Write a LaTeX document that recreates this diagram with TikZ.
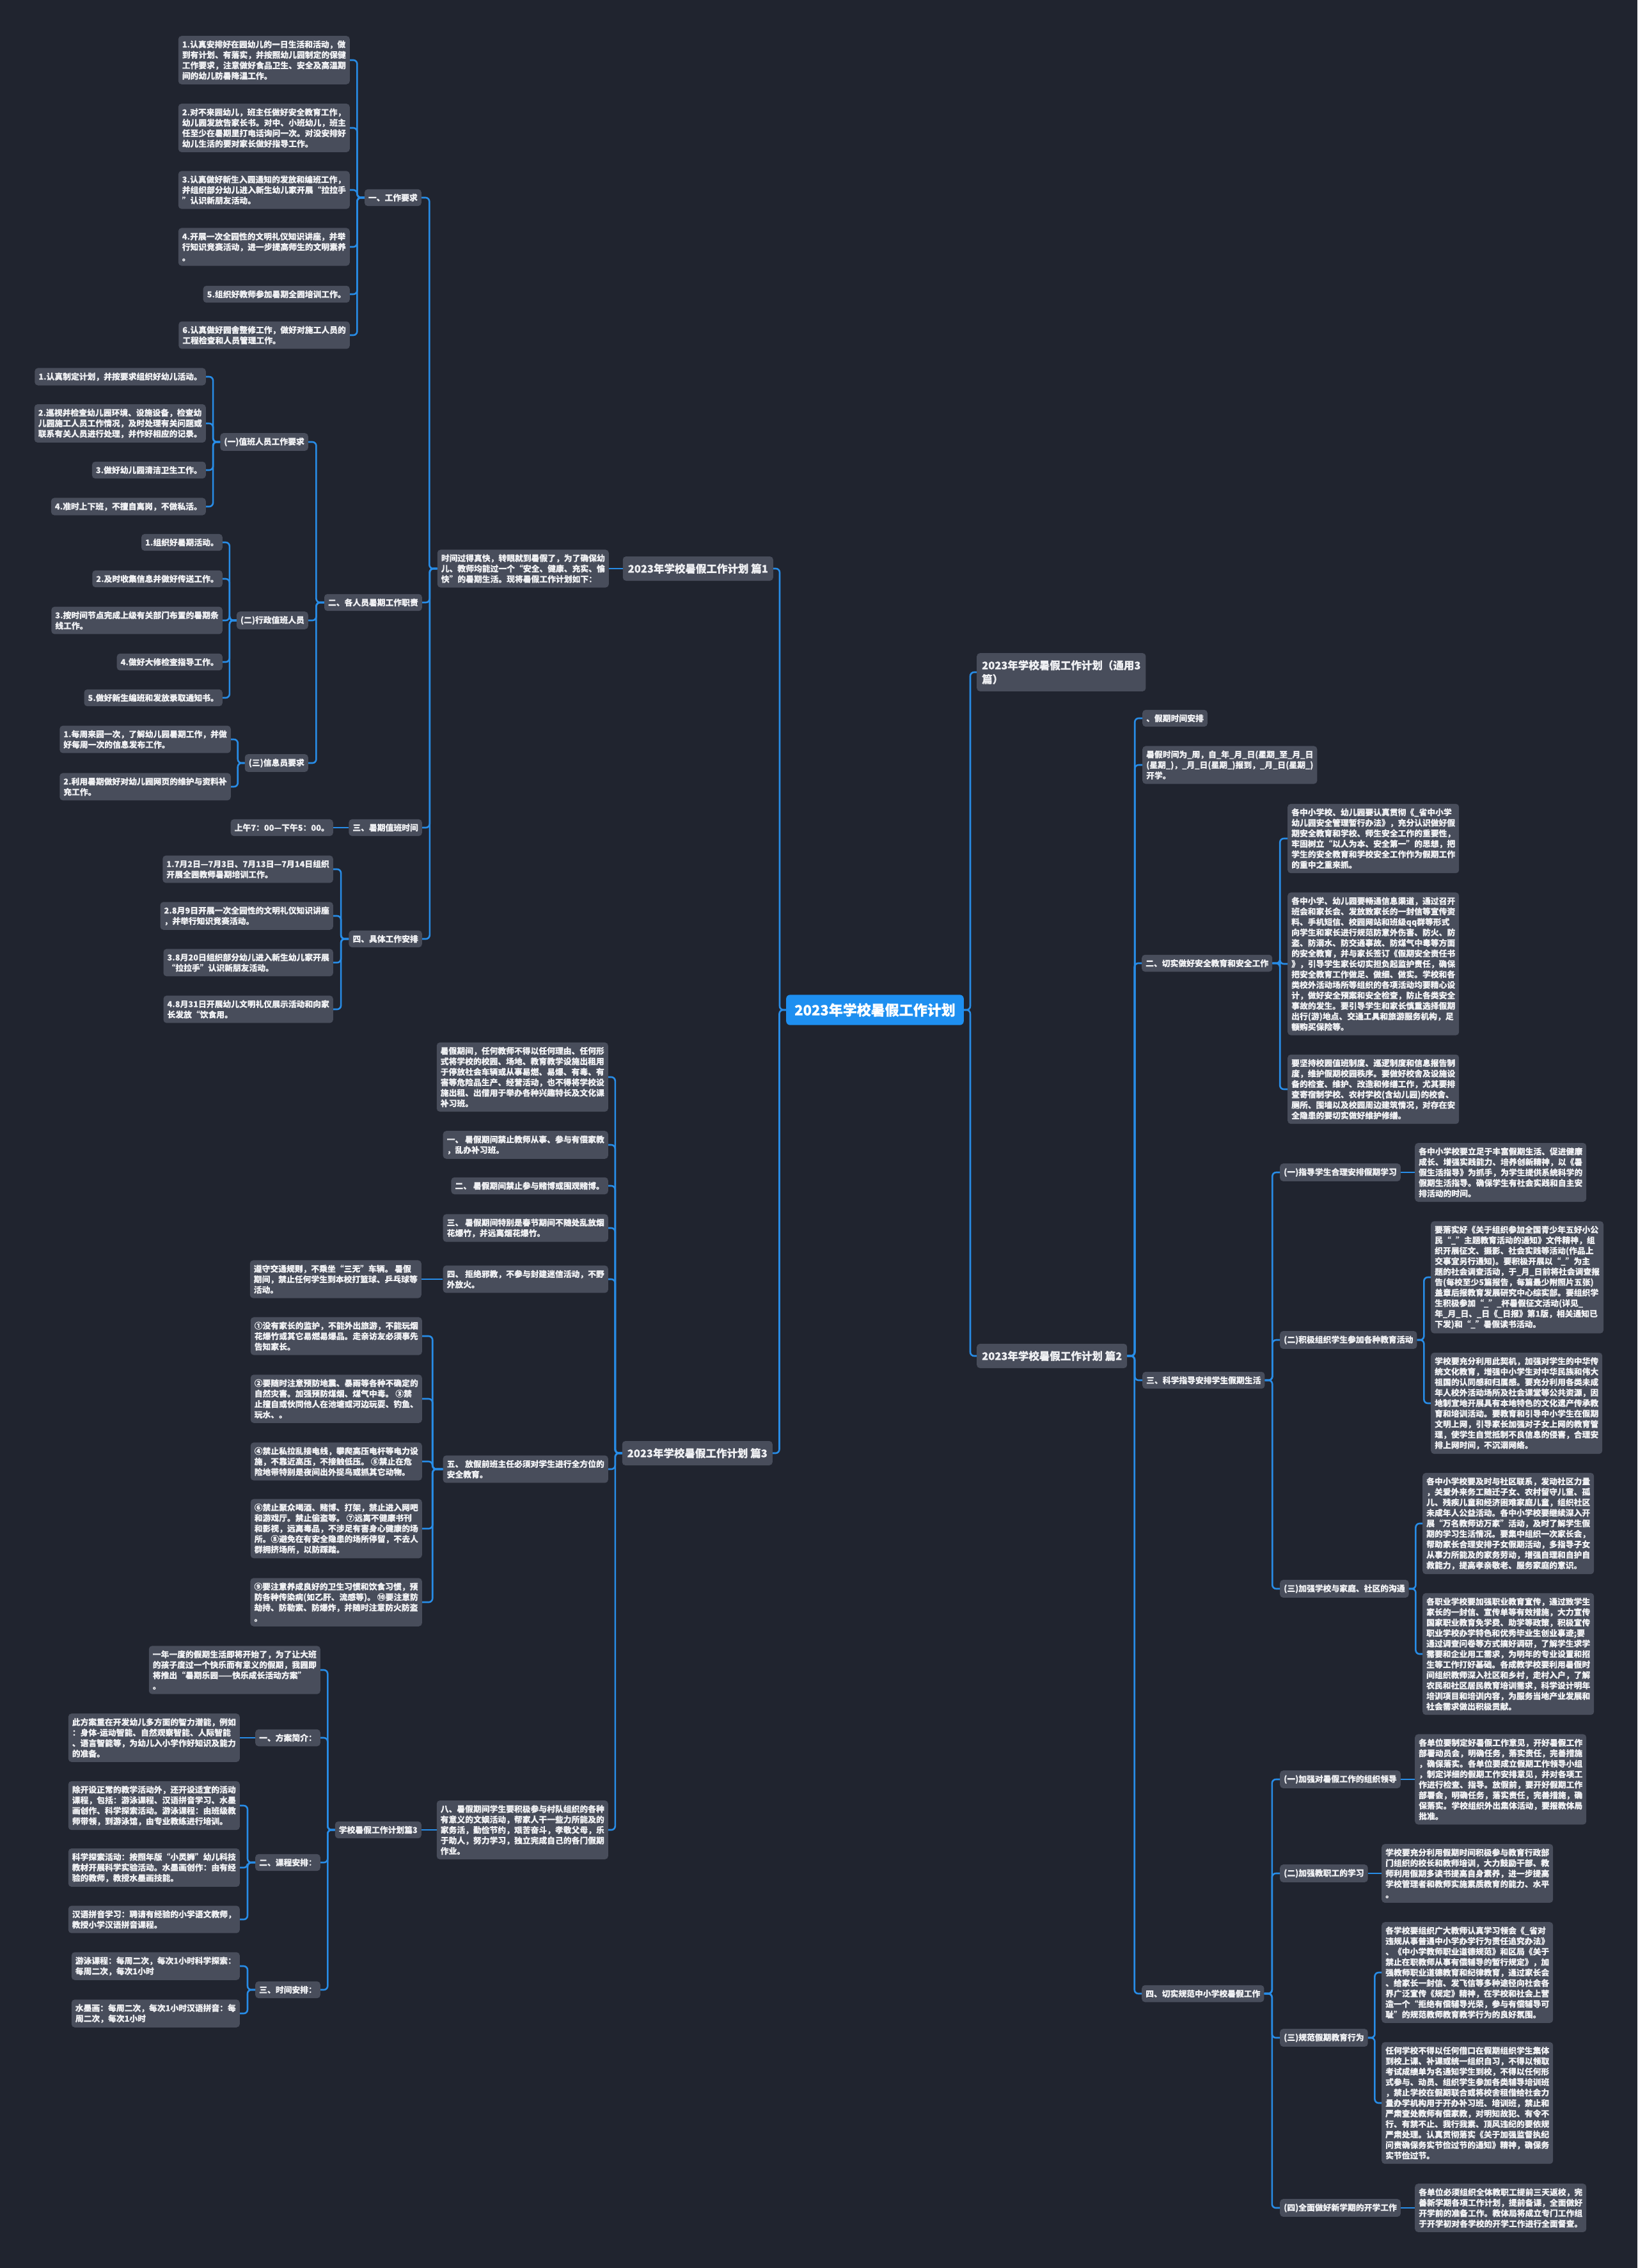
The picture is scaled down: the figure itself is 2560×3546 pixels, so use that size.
\documentclass[tikz,border=0pt]{standalone}
\usepackage{fontspec}
\setmainfont[FakeBold=0.3]{Noto Sans CJK SC}
\usetikzlibrary{calc}
\definecolor{bg}{HTML}{20242F}
\definecolor{boxfill}{HTML}{484D5B}
\definecolor{txt}{HTML}{EEEFF2}
\definecolor{wire}{HTML}{288CE6}
\definecolor{rootfill}{HTML}{1E8FF0}
\tikzset{leaf/.style={rounded corners=5pt,fill=boxfill,text=txt,font=\fontsize{12.8}{16.4}\selectfont\bfseries,inner xsep=6pt,inner ysep=7pt,align=left},
lbox/.style={leaf,anchor=east},rbox/.style={leaf,anchor=west},
part/.style={leaf,font=\fontsize{16.5}{21.7}\selectfont\bfseries,inner xsep=8pt,inner ysep=11pt},
root/.style={rounded corners=6pt,fill=rootfill,text=white,font=\fontsize{22}{26}\selectfont\bfseries,inner xsep=13pt,inner ysep=13pt},
link/.style={draw=wire,line width=2.6pt,rounded corners=6pt},
elbow/.style={to path={-- ($(\tikztostart)!.5!(\tikztostart-|\tikztotarget)$) |- (\tikztotarget)}}}

\begin{document}
\begin{tikzpicture}[x=1pt,y=-1pt]
\fill[bg] (0,0) rectangle (2560,3546);
\useasboundingbox (0,0) rectangle (2560,3546);
\node[root] (root) at (1368,1579) {2023年学校暑假工作计划};

% part 1
\node[part,anchor=east] (p1) at (1209,889) {2023年学校暑假工作计划 篇1};
\node[lbox] (p1i) at (952,889) {时间过得真快，转眼就到暑假了，为了确保幼\\儿、教师均能过一个“安全、健康、充实、愉\\快”的暑期生活。现将暑假工作计划如下：};
\node[lbox] (g1) at (659,309) {一、工作要求};
\node[lbox] (w1) at (547,94) {1.认真安排好在园幼儿的一日生活和活动，做\\到有计划、有落实，并按照幼儿园制定的保健\\工作要求，注意做好食品卫生、安全及高温期\\间的幼儿防暑降温工作。};
\node[lbox] (w2) at (547,200) {2.对不来园幼儿，班主任做好安全教育工作，\\幼儿园发放告家长书。对中、小班幼儿，班主\\任至少在暑期里打电话询问一次。对没安排好\\幼儿生活的要对家长做好指导工作。};
\node[lbox] (w3) at (547,297) {3.认真做好新生入园通知的发放和编班工作，\\并组织部分幼儿进入新生幼儿家开展“拉拉手\\”认识新朋友活动。};
\node[lbox] (w4) at (547,386) {4.开展一次全园性的文明礼仪知识讲座，并举\\行知识竞赛活动，进一步提高师生的文明素养\\。};
\node[lbox] (w5) at (547,460) {5.组织好教师参加暑期全园培训工作。};
\node[lbox] (w6) at (547,524) {6.认真做好园舍整修工作，做好对施工人员的\\工程检查和人员管理工作。};
\node[lbox] (g2) at (660,942) {二、各人员暑期工作职责};
\node[lbox] (h1) at (482,691) {(一)值班人员工作要求};
\node[lbox] (h1a) at (322,589) {1.认真制定计划，并按要求组织好幼儿活动。};
\node[lbox] (h1b) at (322,662) {2.巡视并检查幼儿园环境、设施设备，检查幼\\儿园施工人员工作情况，及时处理有关问题或\\联系有关人员进行处理，并作好相应的记录。};
\node[lbox] (h1c) at (322,735) {3.做好幼儿园清洁卫生工作。};
\node[lbox] (h1d) at (322,792) {4.准时上下班，不擅自离岗，不做私活。};
\node[lbox] (h2) at (482,970) {(二)行政值班人员};
\node[lbox] (h2a) at (348,848) {1.组织好暑期活动。};
\node[lbox] (h2b) at (348,905) {2.及时收集信息并做好传送工作。};
\node[lbox] (h2c) at (348,970) {3.按时间节点完成上级有关部门布置的暑期条\\线工作。};
\node[lbox] (h2d) at (348,1035) {4.做好大修检查指导工作。};
\node[lbox] (h2e) at (348,1091) {5.做好新生编班和发放录取通知书。};
\node[lbox] (h3) at (482,1193) {(三)信息员要求};
\node[lbox] (h3a) at (361,1156) {1.每周来园一次，了解幼儿园暑期工作，并做\\好每周一次的信息发布工作。};
\node[lbox] (h3b) at (361,1230) {2.利用暑期做好对幼儿园网页的维护与资料补\\充工作。};
\node[lbox] (g3) at (660,1294) {三、暑期值班时间};
\node[lbox] (g3a) at (521,1294) {上午7：00—下午5：00。};
\node[lbox] (g4) at (660,1468) {四、具体工作安排};
\node[lbox] (g4a) at (521,1359) {1.7月2日—7月3日、7月13日—7月14日组织\\开展全园教师暑期培训工作。};
\node[lbox] (g4b) at (521,1432) {2.8月9日开展一次全园性的文明礼仪知识讲座\\，并举行知识竞赛活动。};
\node[lbox] (g4c) at (521,1505) {3.8月20日组织部分幼儿进入新生幼儿家开展\\“拉拉手”认识新朋友活动。};
\node[lbox] (g4d) at (521,1578) {4.8月31日开展幼儿文明礼仪展示活动和向家\\长发放“饮食用。};

% part 3
\node[part,anchor=east] (p3) at (1208,2272) {2023年学校暑假工作计划 篇3};
\node[lbox] (q1) at (951,1684) {暑假期间，任何教师不得以任何理由、任何形\\式将学校的校园、场地、教育教学设施出租用\\于停放社会车辆或从事易燃、易爆、有毒、有\\害等危险品生产、经营活动，也不得将学校设\\施出租、出借用于举办各种兴趣特长及文化课\\补习班。};
\node[lbox] (q2) at (951,1790) {一、 暑假期间禁止教师从事、参与有偿家教\\，乱办补习班。};
\node[lbox] (q3) at (951,1854) {二、 暑假期间禁止参与赌博或围观赌博。};
\node[lbox] (q4) at (951,1920) {三、 暑假期间特别是春节期间不随处乱放烟\\花爆竹，并远离烟花爆竹。};
\node[lbox] (q5) at (951,2000) {四、 拒绝邪教，不参与封建迷信活动，不野\\外放火。};
\node[lbox] (q5a) at (659,2000) {遵守交通规则，不乘坐“三无”车辆。 暑假\\期间，禁止任何学生到本校打篮球、乒乓球等\\活动。};
\node[lbox] (q6) at (951,2297) {五、 放假前班主任必须对学生进行全方位的\\安全教育。};
\node[lbox] (q6a) at (660,2089) {①没有家长的监护，不能外出旅游，不能玩烟\\花爆竹或其它易燃易爆品。走亲访友必须事先\\告知家长。};
\node[lbox] (q6b) at (660,2187) {②要随时注意预防地震、暴雨等各种不确定的\\自然灾害。加强预防煤烟、煤气中毒。 ③禁\\止擅自或伙同他人在池塘或河边玩耍、钓鱼、\\玩水、。};
\node[lbox] (q6c) at (660,2285) {④禁止私拉乱接电线，攀爬高压电杆等电力设\\施，不靠近高压，不接触低压。 ⑤禁止在危\\险地带特别是夜间出外捉鸟或抓其它动物。};
\node[lbox] (q6d) at (660,2390) {⑥禁止聚众喝酒、赌博、打架，禁止进入网吧\\和游戏厅。禁止偷盗等。 ⑦远离不健康书刊\\和影视，远离毒品，不涉足有害身心健康的场\\所。⑧避免在有安全隐患的场所停留，不去人\\群拥挤场所，以防踩踏。};
\node[lbox] (q6e) at (660,2505) {⑨要注意养成良好的卫生习惯和饮食习惯，预\\防各种传染病(如乙肝、流感等)。 ⑩要注意防\\劫持、防勒索、防爆炸，并随时注意防火防盗\\。};
\node[lbox] (q7) at (951,2861) {八、暑假期间学生要积极参与村队组织的各种\\有意义的文娱活动，帮家人干一些力所能及的\\家务活，勤俭节约，艰苦奋斗，孝敬父母，乐\\于助人，努力学习，独立完成自己的各门假期\\作业。};
\node[lbox] (q8) at (659,2861) {学校暑假工作计划篇3};
\node[lbox] (r0) at (501,2611) {一年一度的假期生活即将开始了，为了让大班\\的孩子度过一个快乐而有意义的假期，我园即\\将推出“暑期乐园——快乐成长活动方案”\\。};
\node[lbox] (r1) at (501,2717) {一、方案简介：};
\node[lbox] (r1a) at (375,2717) {此方案重在开发幼儿多方面的智力潜能，例如\\：身体-运动智能、自然观察智能、人际智能\\、语言智能等，为幼儿入小学作好知识及能力\\的准备。};
\node[lbox] (r2) at (501,2912) {二、课程安排：};
\node[lbox] (r2a) at (375,2823) {除开设正常的教学活动外，还开设适宜的活动\\课程，包括：游泳课程、汉语拼音学习、水墨\\画创作、科学探索活动。游泳课程：由班级教\\师带领，到游泳馆，由专业教练进行培训。};
\node[lbox] (r2b) at (375,2920) {科学探索活动：按照年版“小灵狮”幼儿科技\\教材开展科学实验活动。水墨画创作：由有经\\验的教师，教授水墨画技能。};
\node[lbox] (r2c) at (375,3001) {汉语拼音学习：聘请有经验的小学语文教师，\\教授小学汉语拼音课程。};
\node[lbox] (r3) at (501,3111) {三、时间安排：};
\node[lbox] (r3a) at (375,3074) {游泳课程：每周二次，每次1小时科学探索：\\每周二次，每次1小时};
\node[lbox] (r3b) at (375,3148) {水墨画：每周二次，每次1小时汉语拼音：每\\周二次，每次1小时};

% right side
\node[part,anchor=west] (s0) at (1527,1051) {2023年学校暑假工作计划（通用3\\篇）};
\node[part,anchor=west] (s1) at (1527,2120) {2023年学校暑假工作计划 篇2};
\node[rbox] (t1) at (1786,1123) {、假期时间安排};
\node[rbox] (t2) at (1786,1196) {暑假时间为\_周，自\_年\_月\_日(星期\_至\_月\_日\\(星期\_)，\_月\_日(星期\_)报到，\_月\_日(星期\_)\\开学。};
\node[rbox] (t3) at (1785,1506) {二、切实做好安全教育和安全工作};
\node[rbox] (t3a) at (2013,1311) {各中小学校、幼儿园要认真贯彻《\_省中小学\\幼儿园安全管理暂行办法》，充分认识做好假\\期安全教育和学校、师生安全工作的重要性，\\牢固树立“以人为本、安全第一”的思想，把\\学生的安全教育和学校安全工作作为假期工作\\的重中之重来抓。};
\node[rbox] (t3b) at (2013,1507) {各中小学、幼儿园要畅通信息渠道，通过召开\\班会和家长会、发放致家长的一封信等宣传资\\料、手机短信、校园网站和班级qq群等形式\\向学生和家长进行规范防意外伤害、防火、防\\盗、防溺水、防交通事故、防煤气中毒等方面\\的安全教育，并与家长签订《假期安全责任书\\》，引导学生家长切实担负起监护责任，确保\\把安全教育工作做足、做细、做实。学校和各\\类校外活动场所等组织的各项活动均要精心设\\计，做好安全预案和安全检查，防止各类安全\\事故的发生。要引导学生和家长慎重选择假期\\出行(游)地点、交通工具和旅游服务机构，足\\额购买保险等。};
\node[rbox] (t3c) at (2013,1703) {要坚持校园值班制度、巡逻制度和信息报告制\\度，维护假期校园秩序。要做好校舍及设施设\\备的检查、维护、改造和修缮工作，尤其要排\\查寄宿制学校、农村学校(含幼儿园)的校舍、\\厕所、围墙以及校园周边建筑情况，对存在安\\全隐患的要切实做好维护修缮。};
\node[rbox] (t4) at (1786,2158) {三、科学指导安排学生假期生活};
\node[rbox] (u1) at (2001,1833) {(一)指导学生合理安排假期学习};
\node[rbox] (u1a) at (2212,1833) {各中小学校要立足于丰富假期生活、促进健康\\成长、增强实践能力、培养创新精神，以《暑\\假生活指导》为抓手，为学生提供系统科学的\\假期生活指导。确保学生有社会实践和自主安\\排活动的时间。};
\node[rbox] (u2) at (2001,2095) {(二)积极组织学生参加各种教育活动};
\node[rbox] (u2a) at (2237,1997) {要落实好《关于组织参加全国青少年五好小公\\民“\_”主题教育活动的通知》文件精神，组\\织开展征文、摄影、社会实践等活动(作品上\\交事宜另行通知)。要积极开展以“\_”为主\\题的社会调查活动，于\_月\_日前将社会调查报\\告(每校至少5篇报告，每篇最少附照片五张)\\盖章后报教育发展研究中心综实部。要组织学\\生积极参加“\_”\_杯暑假征文活动(详见\_\\年\_月\_日、\_日《\_日报》第1版，相关通知已\\下发)和“\_”暑假读书活动。};
\node[rbox] (u2b) at (2237,2194) {学校要充分利用此契机，加强对学生的中华传\\统文化教育，增强中小学生对中华民族和伟大\\祖国的认同感和归属感。要充分利用各类未成\\年人校外活动场所及社会课堂等公共资源，因\\地制宜地开展具有本地特色的文化遗产传承教\\育和培训活动。要教育和引导中小学生在假期\\文明上网，引导家长加强对子女上网的教育管\\理，使学生自觉抵制不良信息的侵害，合理安\\排上网时间，不沉溺网络。};
\node[rbox] (u3) at (2001,2484) {(三)加强学校与家庭、社区的沟通};
\node[rbox] (u3a) at (2224,2382) {各中小学校要及时与社区联系，发动社区力量\\，关爱外来务工随迁子女、农村留守儿童、孤\\儿、残疾儿童和经济困难家庭儿童，组织社区\\未成年人公益活动。各中小学校要继续深入开\\展“万名教师访万家”活动，及时了解学生假\\期的学习生活情况。要集中组织一次家长会，\\帮助家长合理安排子女假期活动，多指导子女\\从事力所能及的家务劳动，增强自理和自护自\\救能力，提高孝亲敬老、服务家庭的意识。};
\node[rbox] (u3b) at (2224,2586) {各职业学校要加强职业教育宣传，通过致学生\\家长的一封信、宣传单等有效措施，大力宣传\\国家职业教育免学费、助学等政策，积极宣传\\职业学校办学特色和优秀毕业生创业事迹;要\\通过调查问卷等方式搞好调研，了解学生求学\\需要和企业用工需求，为明年的专业设置和招\\生等工作打好基础。各成教学校要利用暑假时\\间组织教师深入社区和乡村，走村入户，了解\\农民和社区居民教育培训需求，科学设计明年\\培训项目和培训内容，为服务当地产业发展和\\社会需求做出积极贡献。};
\node[rbox] (t5) at (1785,3117) {四、切实规范中小学校暑假工作};
\node[rbox] (v1) at (2001,2782) {(一)加强对暑假工作的组织领导};
\node[rbox] (v1a) at (2212,2782) {各单位要制定好暑假工作意见，开好暑假工作\\部署动员会，明确任务，落实责任，完善措施\\，确保落实。各单位要成立假期工作领导小组\\，制定详细的假期工作安排意见，并对各项工\\作进行检查、指导。放假前，要开好假期工作\\部署会，明确任务，落实责任，完善措施，确\\保落实。学校组织外出集体活动，要报教体局\\批准。};
\node[rbox] (v2) at (2001,2929) {(二)加强教职工的学习};
\node[rbox] (v2a) at (2160,2929) {学校要充分利用假期时间积极参与教育行政部\\门组织的校长和教师培训，大力鼓励干部、教\\师利用假期多读书提高自身素养，进一步提高\\学校管理者和教师实施素质教育的能力、水平\\。};
\node[rbox] (v3) at (2001,3186) {(三)规范假期教育行为};
\node[rbox] (v3a) at (2160,3084) {各学校要组织广大教师认真学习领会《\_省对\\违规从事普通中小学办学行为责任追究办法》\\、《中小学教师职业道德规范》和区局《关于\\禁止在职教师从事有偿辅导的暂行规定》，加\\强教师职业道德教育和纪律教育，通过家长会\\、给家长一封信、发飞信等多种途径向社会各\\界广泛宣传《规定》精神，在学校和社会上营\\造一个“拒绝有偿辅导光荣，参与有偿辅导可\\耻”的规范教师教育教学行为的良好氛围。};
\node[rbox] (v3b) at (2160,3288) {任何学校不得以任何借口在假期组织学生集体\\到校上课、补课或统一组织自习，不得以领取\\考试成绩单为名通知学生到校，不得以任何形\\式参与、动员、组织学生参加各类辅导培训班\\，禁止学校在假期联合或将校舍租借给社会力\\量办学机构用于开办补习班、培训班，禁止和\\严肃查处教师有偿家教，对明知故犯、有令不\\行、有禁不止、我行我素、顶风违纪的要依规\\严肃处理。认真贯彻落实《关于加强监督执纪\\问责确保务实节俭过节的通知》精神，确保务\\实节俭过节。};
\node[rbox] (v4) at (2001,3452) {(四)全面做好新学期的开学工作};
\node[rbox] (v4a) at (2212,3452) {各单位必须组织全体教职工提前三天返校，完\\善新学期各项工作计划，提前备课，全面做好\\开学前的准备工作。教体局将成立专门工作组\\于开学初对各学校的开学工作进行全面督查。};

% connectors
\foreach \c in {p1,p3} \draw[link] (root.west) to[elbow] (\c.east);
\foreach \c in {s0,s1} \draw[link] (root.east) to[elbow] (\c.west);
\draw[link] (p1.west) -- (p1i.east);
\foreach \c in {g1,g2,g3,g4} \draw[link] (p1i.west) to[elbow] (\c.east);
\foreach \c in {w1,w2,w3,w4,w5,w6} \draw[link] (g1.west) to[elbow] (\c.east);
\foreach \c in {h1,h2,h3} \draw[link] (g2.west) to[elbow] (\c.east);
\foreach \c in {h1a,h1b,h1c,h1d} \draw[link] (h1.west) to[elbow] (\c.east);
\foreach \c in {h2a,h2b,h2c,h2d,h2e} \draw[link] (h2.west) to[elbow] (\c.east);
\foreach \c in {h3a,h3b} \draw[link] (h3.west) to[elbow] (\c.east);
\draw[link] (g3.west) -- (g3a.east);
\foreach \c in {g4a,g4b,g4c,g4d} \draw[link] (g4.west) to[elbow] (\c.east);
\foreach \c in {q1,q2,q3,q4,q5,q6,q7} \draw[link] (p3.west) to[elbow] (\c.east);
\draw[link] (q5.west) -- (q5a.east);
\foreach \c in {q6a,q6b,q6c,q6d,q6e} \draw[link] (q6.west) to[elbow] (\c.east);
\draw[link] (q7.west) -- (q8.east);
\foreach \c in {r0,r1,r2,r3} \draw[link] (q8.west) to[elbow] (\c.east);
\draw[link] (r1.west) -- (r1a.east);
\foreach \c in {r2a,r2b,r2c} \draw[link] (r2.west) to[elbow] (\c.east);
\foreach \c in {r3a,r3b} \draw[link] (r3.west) to[elbow] (\c.east);
\foreach \c in {t1,t2,t3,t4,t5} \draw[link] (s1.east) to[elbow] (\c.west);
\foreach \c in {t3a,t3b,t3c} \draw[link] (t3.east) to[elbow] (\c.west);
\foreach \c in {u1,u2,u3} \draw[link] (t4.east) to[elbow] (\c.west);
\draw[link] (u1.east) -- (u1a.west);
\foreach \c in {u2a,u2b} \draw[link] (u2.east) to[elbow] (\c.west);
\foreach \c in {u3a,u3b} \draw[link] (u3.east) to[elbow] (\c.west);
\foreach \c in {v1,v2,v3,v4} \draw[link] (t5.east) to[elbow] (\c.west);
\draw[link] (v1.east) -- (v1a.west);
\draw[link] (v2.east) -- (v2a.west);
\foreach \c in {v3a,v3b} \draw[link] (v3.east) to[elbow] (\c.west);
\draw[link] (v4.east) -- (v4a.west);
\end{tikzpicture}
\end{document}
